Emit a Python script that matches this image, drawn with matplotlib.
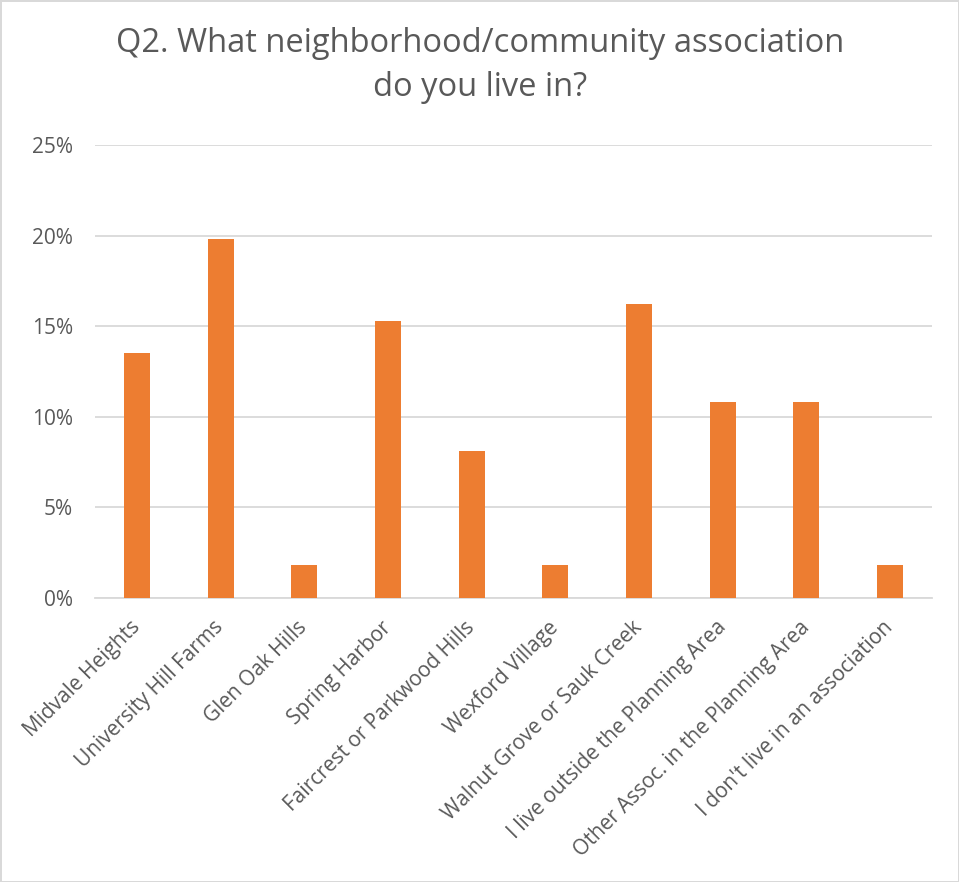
import matplotlib.pyplot as plt
from matplotlib.ticker import FuncFormatter

# survey answers (share of respondents)
categories = [
    "Midvale Heights",
    "University Hill Farms",
    "Glen Oak Hills",
    "Spring Harbor",
    "Faircrest or Parkwood Hills",
    "Wexford Village",
    "Walnut Grove or Sauk Creek",
    "I live outside the Planning Area",
    "Other Assoc. in the Planning Area",
    "I don't live in an association",
]
shares = [0.135, 0.198, 0.018, 0.153, 0.081, 0.018, 0.162, 0.108, 0.108, 0.018]
yticks = [0, 0.05, 0.10, 0.15, 0.20, 0.25]

text_color = "#595959"
grid_color = "#D9D9D9"
bar_color = "#ED7D31"
font = ["Open Sans", "DejaVu Sans"]

W, H = 959, 882
fig = plt.figure(figsize=(W / 100, H / 100), dpi=100)
fig.patch.set_edgecolor(grid_color)
fig.patch.set_linewidth(2)

ax = fig.add_axes([95 / W, 1 - 598 / H, (932 - 95) / W, (598 - 145) / H])
x = range(len(categories))
ax.bar(x, shares, width=0.31, color=bar_color, zorder=3)

ax.set_xlim(-0.5, len(categories) - 0.5)
ax.set_ylim(0, 0.25)
ax.set_yticks(yticks)
ax.yaxis.set_major_formatter(FuncFormatter(lambda v, p: f"{v * 100:.0f}%"))
ax.grid(axis="y", color=grid_color, linewidth=1.3, zorder=0)
for s in ["top", "right", "left"]:
    ax.spines[s].set_visible(False)
ax.spines["bottom"].set_color(grid_color)
ax.spines["bottom"].set_linewidth(1.3)
ax.tick_params(axis="both", length=0, colors=text_color)
ax.tick_params(axis="y", pad=16)

ax.set_xticks(list(x))
ax.set_xticklabels(categories, rotation=45, ha="right", va="center",
                   rotation_mode="anchor", fontsize=15, family=font, color=text_color)
ax.tick_params(axis="x", pad=19)
for lbl in ax.get_yticklabels():
    lbl.set_fontsize(15)
    lbl.set_family(font)

fig.text(480 / W, 1 - 27 / H, "Q2. What neighborhood/community association\ndo you live in?",
         ha="center", va="top", fontsize=23.5, family=font, color=text_color,
         linespacing=1.45)

fig.savefig("out.png", dpi=100)
